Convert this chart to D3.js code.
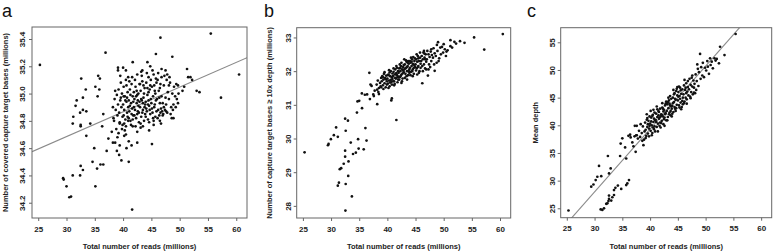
<!DOCTYPE html>
<html>
<head>
<meta charset="utf-8">
<script src="https://cdn.jsdelivr.net/npm/d3@7"></script>
<style>
  body { margin: 0; background: #fff; }
  svg { font-family: "Liberation Sans", Arial, sans-serif; }
</style>
</head>
<body>
<div id="chart"></div>
<script>
// x ticks shared by the three panels
const readTicks = [25, 30, 35, 40, 45, 50, 55, 60];
const xTitle = "Total number of reads (millions)";

// panel a: covered capture target bases (millions)
const coveredTicks = [34.2, 34.4, 34.6, 34.8, 35.0, 35.2, 35.4];
const coveredFit = [34.141, 0.01813]; // intercept, slope
const coveredPoints = [
  [25.3,35.21],[36.9,35.30],[46.6,35.41],[55.5,35.44],[60.5,35.14],[57.3,34.97],[41.6,34.15],
  [29.4,34.38],[29.5,34.37],[30.0,34.32],[30.5,34.24],[30.8,34.245],[31.1,34.40],[32.4,34.40],
  [32.5,34.47],[32.9,34.44],[34.6,34.50],[35.1,34.32],[35.4,34.45],[36.0,34.48],[36.5,34.48],
  [34.9,34.60],[33.5,34.69],[37.1,34.58],[31.1,34.78],[31.2,34.83],[32.5,34.76],[32.5,34.77],
  [31.8,34.95],[31.6,34.91],[32.6,35.11],[33.4,35.03],[32.9,34.97],[32.4,34.86],[32.9,34.88],
  [33.5,34.87],[35.1,35.05],[35.6,35.13],[35.9,35.11],[35.5,34.98],[35.8,35.03],[36.5,34.85],
  [36.3,34.76],[34.2,34.78],[38.3,34.82],[37.4,34.67],[38.0,34.72],[38.2,34.64],[38.6,34.64],
  [38.9,34.58],[39.0,34.68],[39.4,34.62],[39.3,34.55],[39.7,34.51],[40.2,34.69],[40.5,34.70],
  [40.6,34.60],[41.0,34.50],[41.0,34.65],[41.5,34.62],[42.5,34.64],[45.1,34.63],[39.4,34.78],
  [39.8,34.74],[40.5,34.76],
  [39.1,35.19],[39.1,35.17],[40.0,35.19],[40.5,35.17],[41.7,35.23],[43.2,35.16],[43.4,35.17],
  [44.3,35.23],[44.8,35.20],[45.8,35.29],[48.7,35.27],[47.5,35.17],[46.8,35.18],[51.3,35.18],
  [51.5,35.12],[52.2,35.10],[51.9,35.12],[50.8,35.05],[50.5,35.02],[53.0,35.02],[53.5,35.01],
  [49.4,35.07],[49.7,35.06],[48.1,35.06],[48.6,34.82],[48.9,34.82],[47.6,34.87],[47.2,34.90],
  [46.5,34.80],[46.7,34.78],[47.0,34.84],[45.4,34.77],[44.6,34.73],[42.5,34.72],[43.1,34.75],
  [41.7,34.76],[40.9,34.80],[40.1,34.84],
  [38.2,34.90],[38.5,34.96],[38.7,34.88],[38.9,34.99],[38.4,34.80],[38.8,34.74],[39.0,34.84],[38.6,35.02],
  [39.1,34.92],[39.2,35.03],[39.3,34.86],[39.5,34.95],[39.6,35.08],[39.4,34.79],[39.7,34.90],[39.8,35.00],
  [39.9,34.83],[39.5,35.13],[39.2,34.71],[39.9,34.77],[39.6,34.97],
  [40.0,34.92],[40.1,35.05],[40.2,34.88],[40.3,34.98],[40.4,34.81],[40.5,35.10],[40.6,34.94],[40.7,34.86],
  [40.8,35.01],[40.9,34.90],[40.2,34.78],[40.6,35.06],[40.4,34.95],[40.8,34.83],[40.1,34.98],[40.9,35.12],
  [40.3,34.73],[40.7,34.97],
  [41.0,34.95],[41.1,34.87],[41.2,35.03],[41.3,34.80],[41.4,34.93],[41.5,35.07],[41.6,34.89],[41.7,34.98],
  [41.8,34.84],[41.9,35.01],[41.2,34.91],[41.4,34.77],[41.6,35.12],[41.8,34.94],[41.1,35.09],[41.5,34.85],
  [41.9,34.90],[41.3,34.99],[41.7,34.81],[41.0,34.82],
  [42.0,34.96],[42.1,34.88],[42.2,35.05],[42.3,34.82],[42.4,34.93],[42.5,35.14],[42.6,34.87],[42.7,35.00],
  [42.8,34.79],[42.9,34.94],[42.1,35.10],[42.3,34.98],[42.5,34.85],[42.7,34.91],[42.9,35.07],[42.2,34.76],
  [42.4,35.02],[42.6,34.95],[42.8,34.86],[42.0,34.84],[42.5,34.99],
  [43.0,34.90],[43.1,35.02],[43.2,34.83],[43.3,34.95],[43.4,35.09],[43.5,34.88],[43.6,34.97],[43.7,34.80],
  [43.8,35.04],[43.9,34.92],[43.1,34.78],[43.3,35.13],[43.5,34.93],[43.7,35.00],[43.9,34.85],[43.2,34.96],
  [43.4,34.86],[43.6,35.06],[43.8,34.90],[43.0,35.07],[43.5,34.76],
  [44.0,34.94],[44.1,35.08],[44.2,34.87],[44.3,34.99],[44.4,34.81],[44.5,35.12],[44.6,34.91],[44.7,35.03],
  [44.8,34.85],[44.9,34.96],[44.2,35.15],[44.4,34.92],[44.6,34.79],[44.8,35.06],[44.1,34.89],[44.3,35.04],
  [44.5,34.95],[44.7,34.88],[44.9,35.10],[44.0,34.83],[44.5,35.01],
  [45.0,34.93],[45.1,35.05],[45.2,34.86],[45.3,34.98],[45.4,35.14],[45.5,34.90],[45.6,35.02],[45.7,34.83],
  [45.8,34.95],[45.9,35.08],[45.2,35.17],[45.4,34.80],[45.6,34.92],[45.8,35.11],[45.1,34.89],[45.3,34.82],
  [45.7,35.00],[45.9,34.87],[45.5,35.06],
  [46.0,34.96],[46.1,35.10],[46.2,34.88],[46.3,35.02],[46.4,34.84],[46.5,34.93],[46.6,35.07],[46.7,34.89],
  [46.8,34.98],[46.9,34.87],[46.2,35.15],[46.4,34.97],[46.6,34.86],[46.8,35.12],[46.1,34.82],[46.5,35.04],
  [47.0,34.93],[47.2,35.06],[47.4,34.88],[47.5,34.97],[47.7,35.10],[47.8,34.86],[47.3,35.13],[47.6,34.92],
  [47.9,35.01],[47.1,34.85],[47.8,35.14],
  [48.1,34.96],[48.3,35.08],[48.5,34.90],[48.7,35.00],[48.9,34.92],[49.2,34.98],[49.5,34.96],[49.8,35.00],
  [48.4,34.85],[49.0,35.05],[49.3,34.90],[49.7,34.93],[48.2,35.12],[48.8,34.88]
];

// panel b: capture target bases >= 10x depth (millions)
const deepTicks = [28, 29, 30, 31, 32, 33];
const deepPoints = [
  [25.3,29.59],[29.45,29.80],[29.56,29.84],[29.97,29.98],[30.5,30.10],[30.9,30.33],[31.2,30.05],
  [31.2,28.60],[31.4,28.69],[31.55,29.09],[31.8,29.12],[32.25,29.25],[32.5,29.46],[32.5,29.64],
  [32.6,28.65],[32.55,27.86],[32.5,30.59],[32.6,30.23],[33.0,30.53],[33.1,29.32],[33.05,28.89],
  [33.5,29.88],[33.7,28.28],[33.9,29.54],[34.4,29.58],[34.9,29.70],[34.8,29.98],[35.8,29.68],
  [36.1,30.31],[36.3,29.94],
  [34.6,30.77],[35.0,31.12],[35.5,30.90],[35.47,31.34],[36.4,31.31],[36.8,31.95],[36.9,31.17],
  [37.2,31.56],[37.5,31.31],[37.75,31.42],[37.6,31.26],[38.2,31.02],[38.5,31.32],[38.9,31.52],
  [40.8,31.19],[40.7,31.13],[41.6,30.55],[37.0,31.60],[36.0,31.30],[34.7,31.10],
  [38.1,31.60],[38.3,31.72],[38.5,31.50],[38.7,31.65],[38.9,31.80],[38.4,31.38],[38.8,31.55],[38.2,31.45],
  [39.0,31.70],[39.1,31.85],[39.2,31.58],[39.3,31.75],[39.4,31.92],[39.5,31.64],[39.6,31.80],[39.7,31.52],
  [39.8,31.87],[39.9,31.70],[39.3,31.47],[39.5,31.97],[39.7,31.76],[39.9,31.60],[39.2,31.82],
  [40.0,31.78],[40.1,31.63],[40.2,31.90],[40.3,31.72],[40.4,31.55],[40.5,31.85],[40.6,32.00],[40.7,31.68],
  [40.8,31.82],[40.9,31.93],[40.2,31.50],[40.4,31.96],[40.6,31.74],[40.8,31.60],[40.1,31.88],[40.5,31.66],
  [40.9,31.77],[40.3,32.03],
  [41.0,31.85],[41.1,31.98],[41.2,31.70],[41.3,31.90],[41.4,32.05],[41.5,31.78],[41.6,31.94],[41.7,32.10],
  [41.8,31.82],[41.9,32.00],[41.2,31.58],[41.4,31.80],[41.6,32.15],[41.8,31.67],[41.1,32.08],[41.5,31.92],
  [41.9,31.75],[41.3,31.62],[41.7,31.88],[41.0,31.70],
  [42.0,31.95],[42.1,32.08],[42.2,31.82],[42.3,32.00],[42.4,32.15],[42.5,31.90],[42.6,32.05],[42.7,31.78],
  [42.8,32.12],[42.9,31.97],[42.2,32.20],[42.4,31.86],[42.6,31.70],[42.8,32.02],[42.1,31.75],[42.3,32.10],
  [42.5,32.25],[42.7,31.93],[42.9,32.18],[42.0,31.84],[42.5,31.65],
  [43.0,32.05],[43.1,32.20],[43.2,31.92],[43.3,32.10],[43.4,32.28],[43.5,32.00],[43.6,32.15],[43.7,31.88],
  [43.8,32.22],[43.9,32.05],[43.1,31.80],[43.3,32.32],[43.5,32.12],[43.7,32.30],[43.9,31.95],[43.2,32.08],
  [43.4,31.85],[43.6,32.25],[43.8,32.00],[43.0,32.35],[43.5,31.75],
  [44.0,32.10],[44.1,32.25],[44.2,31.98],[44.3,32.15],[44.4,32.35],[44.5,32.05],[44.6,32.20],[44.7,31.92],
  [44.8,32.30],[44.9,32.12],[44.2,32.40],[44.4,32.00],[44.6,32.42],[44.8,32.18],[44.1,31.88],[44.3,32.28],
  [44.5,32.22],[44.7,32.10],[44.9,32.38],[44.0,32.30],[44.5,31.85],
  [45.0,32.20],[45.1,32.35],[45.2,32.08],[45.3,32.28],[45.4,32.45],[45.5,32.15],[45.6,32.30],[45.7,32.00],
  [45.8,32.40],[45.9,32.22],[45.2,32.50],[45.4,32.12],[45.6,31.95],[45.8,32.55],[45.1,32.02],[45.5,32.38],
  [45.9,32.10],[45.3,31.90],
  [46.0,32.30],[46.1,32.45],[46.2,31.64],[46.3,32.35],[46.4,32.55],[46.5,32.20],[46.6,32.40],[46.7,32.08],
  [46.8,32.50],[46.9,32.28],[46.2,32.15],[46.5,32.60],[46.7,32.35],[46.9,32.05],[46.3,32.00],[46.6,32.52],
  [47.0,32.35],[47.2,31.87],[47.3,32.50],[47.4,32.20],[47.5,32.42],[47.7,32.58],[47.8,32.30],[47.1,32.60],
  [47.6,32.12],[47.9,32.48],[47.3,32.05],[47.8,32.65],
  [48.1,32.40],[48.4,32.53],[48.4,32.01],[48.75,32.25],[48.2,32.68],[48.6,32.45],[48.9,32.60],[49.0,32.86],
  [49.2,32.38],[49.4,32.70],[49.7,32.72],[49.9,32.55],[48.3,32.20],[49.5,32.50],[48.8,32.78],[49.1,32.30],
  [50.2,32.65],[50.5,32.58],[50.7,32.62],[51.2,32.92],[51.2,32.74],[51.9,32.87],[52.2,32.82],[52.9,32.89],
  [53.7,32.84],[55.4,33.00],[57.2,32.64],[60.5,33.10],[50.4,32.45],[50.0,32.80],[51.5,32.70]
];

// panel c: mean depth
const depthTicks = [25, 30, 35, 40, 45, 50, 55];
const depthFit = [-6.15, 1.137];
const depthPoints = [
  [25.3,24.6],[31.1,24.8],[31.4,24.7],[31.7,25.0],[32.1,25.8],[32.5,26.3],[32.6,26.7],[33.0,26.4],
  [32.6,27.3],[33.5,28.3],[33.75,28.7],[34.2,29.1],[34.8,28.5],[33.5,27.4],[35.7,29.2],[35.9,29.5],
  [36.2,30.1],[32.3,25.9],[33.2,27.0],
  [29.4,28.9],[29.8,29.3],[30.2,30.1],[30.5,30.7],[30.8,32.65],[31.2,30.8],[32.4,34.45],[32.6,31.3],
  [32.9,32.2],[34.6,34.45],[34.7,36.7],[35.0,37.65],[35.5,36.0],[35.7,34.0],[36.1,38.1],[36.4,38.3],
  [37.4,35.2],[37.6,38.2],[37.25,39.9],[36.8,36.9],[37.2,38.0],[37.0,36.2],[36.5,37.8],
  [37.5,38.2],[37.8,37.6],[38.0,39.0],[38.2,37.9],[38.5,38.6],[38.7,39.8],[38.9,37.4],[38.3,40.2],
  [38.6,37.2],[39.0,38.9],[37.6,39.9],[38.8,36.4],
  [39.1,40.5],[39.2,39.2],[39.3,38.1],[39.4,41.0],[39.5,39.7],[39.6,38.5],[39.7,40.8],[39.8,39.4],
  [39.9,41.6],[39.2,37.7],[39.4,42.0],[39.6,40.2],[39.8,38.0],[39.5,41.3],[39.9,39.9],
  [40.0,40.3],[40.1,39.0],[40.2,41.4],[40.3,40.0],[40.4,38.6],[40.5,41.9],[40.6,40.6],[40.7,39.3],
  [40.8,42.3],[40.9,40.9],[40.1,42.6],[40.3,38.2],[40.5,39.6],[40.7,41.2],[40.9,38.9],[40.2,40.7],
  [40.6,42.8],[40.8,39.8],[40.4,41.7],
  [41.0,41.0],[41.1,42.1],[41.2,39.7],[41.3,41.5],[41.4,40.3],[41.5,42.6],[41.6,41.2],[41.7,39.9],
  [41.8,43.0],[41.9,41.6],[41.2,43.4],[41.4,38.9],[41.6,42.4],[41.8,40.5],[41.1,40.6],[41.5,41.8],
  [41.9,39.6],[41.3,42.9],[41.7,41.4],
  [42.0,42.0],[42.1,40.8],[42.2,43.2],[42.3,41.6],[42.4,40.2],[42.5,42.8],[42.6,41.4],[42.7,43.6],
  [42.8,42.2],[42.9,40.9],[42.2,44.0],[42.4,42.5],[42.6,39.9],[42.8,43.9],[42.1,41.9],[42.3,43.0],
  [42.5,41.1],[42.7,42.0],[42.9,44.3],[42.0,40.4],
  [43.0,42.6],[43.1,43.8],[43.2,41.5],[43.3,43.1],[43.4,44.5],[43.5,42.3],[43.6,43.6],[43.7,41.8],
  [43.8,44.8],[43.9,43.0],[43.1,40.9],[43.3,45.0],[43.5,43.9],[43.7,42.6],[43.9,41.6],[43.2,44.2],
  [43.4,42.0],[43.6,45.3],[43.8,43.4],[43.0,44.0],
  [44.0,43.5],[44.1,45.0],[44.2,42.4],[44.3,44.2],[44.4,45.8],[44.5,43.0],[44.6,44.6],[44.7,46.2],
  [44.8,43.7],[44.9,45.4],[44.2,46.4],[44.4,43.3],[44.6,42.6],[44.8,46.6],[44.1,44.0],[44.3,45.6],
  [44.5,44.8],[44.7,43.1],[44.9,46.9],[44.0,42.1],
  [45.0,44.5],[45.1,46.0],[45.2,43.6],[45.3,45.3],[45.4,46.8],[45.5,44.1],[45.6,45.7],[45.7,43.3],
  [45.8,46.5],[45.9,45.0],[45.2,47.0],[45.4,44.8],[45.6,42.9],[45.8,44.4],[45.1,45.2],[45.5,46.3],
  [45.9,43.8],[45.3,43.2],
  [46.0,45.6],[46.1,47.2],[46.2,44.3],[46.3,46.4],[46.4,45.0],[46.5,47.6],[46.6,44.7],[46.7,46.1],
  [46.8,48.0],[46.9,45.4],[46.2,48.2],[46.4,46.8],[46.6,43.9],[46.8,46.9],[46.1,44.0],[46.5,45.8],
  [47.0,46.5],[47.1,48.4],[47.2,45.2],[47.3,47.3],[47.4,46.0],[47.5,48.6],[47.6,47.0],[47.7,45.6],
  [47.8,48.1],[47.9,46.8],[47.3,44.9],[47.6,49.0],[47.9,45.9],
  [48.0,47.5],[48.2,49.2],[48.3,46.4],[48.4,48.0],[48.5,51.0],[48.7,47.1],[48.8,49.6],[49.0,52.9],
  [49.1,48.4],[49.2,50.5],[49.4,49.0],[49.5,51.3],[49.7,48.7],[49.9,50.4],[48.1,45.8],[48.6,50.2],
  [50.1,49.9],[50.3,51.6],[50.4,50.6],[50.6,49.3],[50.8,52.1],[51.1,51.5],[51.3,50.3],[51.8,51.7],
  [52.0,52.0],[52.4,51.2],[52.6,54.2],[53.4,52.7],[55.4,56.5],[50.9,50.9],[51.6,52.1]
];

const W = 778, H = 251;
const svg = d3.select("#chart").append("svg").attr("width", W).attr("height", H);

const panels = [
  { tag: "a", left: 32, right: 247, bottom: 218, top: 27, yDom: [34.088, 35.488], ticks: coveredTicks,
    fmt: d3.format(".1f"), pts: coveredPoints, fit: coveredFit,
    yTitle: "Number of covered capture target bases (millions)", tagX: 2, yLabX: 22, yTitleX: 5 },
  { tag: "b", left: 296.7, right: 510.7, bottom: 218, top: 27.7, yDom: [27.64, 33.29], ticks: deepTicks,
    fmt: d3.format("d"), pts: deepPoints, fit: null,
    yTitle: "Number of capture target bases \u2265 10x depth (millions)", tagX: 264, yLabX: 288, yTitleX: 269 },
  { tag: "c", left: 560.7, right: 771.7, bottom: 217.7, top: 27.7, yDom: [23.3, 57.64], ticks: depthTicks,
    fmt: d3.format("d"), pts: depthPoints, fit: depthFit,
    yTitle: "Mean depth", tagX: 527, yLabX: 552, yTitleX: 535 }
];

panels.forEach(function(p, i) {
  const x = d3.scaleLinear().domain([23.9, 61.9]).range([p.left, p.right]);
  const y = d3.scaleLinear().domain(p.yDom).range([p.bottom, p.top]);
  const g = svg.append("g");

  g.append("clipPath").attr("id", "clip" + i)
    .append("rect").attr("x", p.left).attr("y", p.top)
    .attr("width", p.right - p.left).attr("height", p.bottom - p.top);

  // fitted line
  if (p.fit) {
    const xs = x.domain();
    g.append("line")
      .attr("clip-path", "url(#clip" + i + ")")
      .attr("x1", x(xs[0])).attr("y1", y(p.fit[0] + p.fit[1] * xs[0]))
      .attr("x2", x(xs[1])).attr("y2", y(p.fit[0] + p.fit[1] * xs[1]))
      .attr("stroke", "#8a8a8a").attr("stroke-width", 1.1);
  }

  g.selectAll("circle.pt").data(p.pts).join("circle")
    .attr("class", "pt")
    .attr("cx", d => x(d[0])).attr("cy", d => y(d[1]))
    .attr("r", 1.35).attr("fill", "#111");

  // box
  g.append("rect").attr("x", p.left).attr("y", p.top)
    .attr("width", p.right - p.left).attr("height", p.bottom - p.top)
    .attr("fill", "none").attr("stroke", "#666").attr("stroke-width", 1);

  // x axis
  const xa = g.append("g").attr("transform", `translate(0,${p.bottom})`)
    .call(d3.axisBottom(x).tickValues(readTicks).tickSize(3).tickPadding(5));
  xa.select(".domain").remove();
  xa.selectAll("line").attr("stroke", "#666");
  xa.selectAll("text").attr("font-size", 8).attr("font-weight", "bold").attr("fill", "#222");

  // y axis, labels rotated like R (tick groups already sit at y(d))
  const ya = g.append("g").attr("transform", `translate(${p.left},0)`)
    .call(d3.axisLeft(y).tickValues(p.ticks).tickFormat(p.fmt).tickSize(3));
  ya.select(".domain").remove();
  ya.selectAll("line").attr("stroke", "#666");
  ya.selectAll("text")
    .attr("font-size", 8).attr("font-weight", "bold").attr("fill", "#222")
    .attr("x", 0).attr("y", 0).attr("dy", null)
    .attr("text-anchor", "middle")
    .attr("transform", `translate(${p.yLabX - p.left + 3},0) rotate(-90)`);

  // titles
  g.append("text").attr("x", (p.left + p.right) / 2).attr("y", 249)
    .attr("text-anchor", "middle").attr("font-size", 7.5).attr("font-weight", "bold")
    .attr("fill", "#222").text(xTitle);
  g.append("text")
    .attr("transform", `translate(${p.yTitleX + 3},${(p.top + p.bottom) / 2}) rotate(-90)`)
    .attr("text-anchor", "middle").attr("font-size", 7.5).attr("font-weight", "bold")
    .attr("fill", "#222").text(p.yTitle);

  // panel letter
  g.append("text").attr("x", p.tagX).attr("y", 17)
    .attr("font-size", 18).attr("fill", "#111").text(p.tag);
});
</script>
</body>
</html>
